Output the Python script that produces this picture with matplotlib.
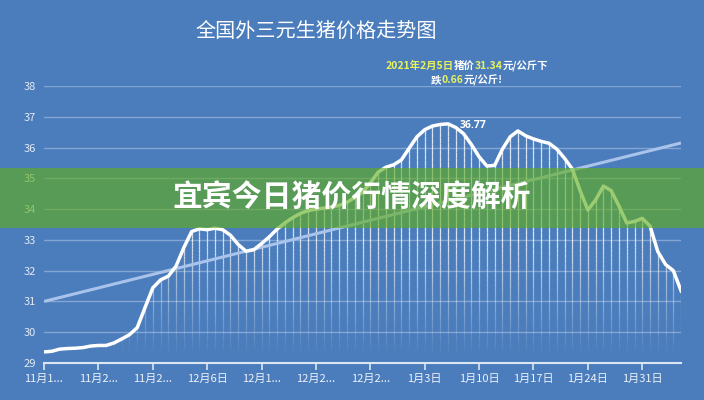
import numpy as np
import matplotlib
matplotlib.use("Agg")
import matplotlib.pyplot as plt
from matplotlib.collections import LineCollection
from matplotlib.offsetbox import TextArea, HPacker, VPacker, AnchoredOffsetbox

plt.rcParams['font.family'] = ['Noto Sans CJK SC', 'DejaVu Sans']

# daily price, 11/15 .. 2/5 (yuan / kg)
prices = [29.36, 29.38, 29.45, 29.47, 29.48, 29.50, 29.55, 29.57, 29.57, 29.65,
          29.78, 29.92, 30.15, 30.80, 31.44, 31.70, 31.82, 32.15, 32.75, 33.27,
          33.36, 33.33, 33.38, 33.33, 33.15, 32.85, 32.63, 32.68, 32.88, 33.10,
          33.35, 33.55, 33.72, 33.86, 33.95, 34.00, 34.03, 34.07, 34.12, 34.22,
          34.38, 34.55, 34.85, 35.20, 35.36, 35.44, 35.60, 35.98, 36.35, 36.58,
          36.70, 36.75, 36.77, 36.65, 36.45, 36.10, 35.70, 35.40, 35.42, 35.95,
          36.35, 36.54, 36.38, 36.28, 36.20, 36.14, 35.95, 35.65, 35.30, 34.60,
          33.97, 34.30, 34.75, 34.60, 34.10, 33.55, 33.60, 33.70, 33.45, 32.62,
          32.20, 32.00, 31.34]
trend_ends = [31.0, 36.15]
tick_labels = ["11月1...", "11月2...", "11月2...", "12月6日", "12月1...", "12月2...",
               "12月2...", "1月3日", "1月10日", "1月17日", "1月24日", "1月31日"]
peak_label = "36.77"

bg = "#4b7dbc"
days = np.arange(len(prices))
vals = np.array(prices)

fig = plt.figure(figsize=(7.04, 4.0), dpi=100)
fig.patch.set_facecolor(bg)
ax = fig.add_axes([0.0625, 0.0925, 0.905, 0.6925])
ax.set_facecolor(bg)

# drop lines, fading towards the bottom
segs, cols = [], []
for d, v in zip(days, vals):
    ys = np.linspace(29, v, 40)
    for a, b in zip(ys[:-1], ys[1:]):
        segs.append([(d, a), (d, b)])
        al = np.clip(((a + b) / 2 - 29.3) / 3.7, 0, 1) * 0.8
        cols.append((1, 1, 1, al))
ax.add_collection(LineCollection(segs, colors=cols, linewidths=0.9, zorder=2))

ax.plot([days[0], days[-1]], trend_ends, color="#a9c3ea", lw=2.2, zorder=3,
        solid_capstyle="butt")
ax.plot(days, vals, color="white", lw=2.5, zorder=4, solid_joinstyle="round")

ipk = int(np.argmax(vals))
ax.annotate(peak_label, (days[ipk], vals[ipk]), xytext=(8, -5), textcoords="offset points",
            color="white", fontsize=7.5, fontweight="bold", ha="left", va="bottom",
            family=["Open Sans", "DejaVu Sans"])

ax.set_xlim(0, len(prices) - 1)
ax.set_ylim(29, 38)
ax.set_yticks(range(29, 39))
ax.set_xticks(np.arange(0, 78, 7))
ax.set_xticklabels(tick_labels)
ax.grid(axis="y", color="#82a5d3", lw=1.0)
ax.set_axisbelow(True)
for s in ["top", "right", "left"]:
    ax.spines[s].set_visible(False)
ax.spines["bottom"].set_color("#dce6f3")
ax.spines["bottom"].set_linewidth(1.5)
ax.tick_params(axis="y", length=0, pad=6, labelcolor="#e3eaf5", labelsize=8)
ax.tick_params(axis="x", length=5, width=1.2, color="#dce6f3", pad=3,
               labelcolor="#eef2f9", labelsize=8)

fig.text(0.449, 0.922, "全国外三元生猪价格走势图", color="white", fontsize=14.5,
         ha="center", va="center")

# note text with highlighted numbers
yel = "#e8f25c"
def piece(t, c):
    return TextArea(t, textprops=dict(color=c, fontsize=7.5, fontweight="bold"))
line1 = HPacker(children=[piece("2021年2月5日", yel), piece("猪价", "white"),
                          piece("31.34", yel), piece("元/公斤下", "white")],
                pad=0, sep=0)
line2 = HPacker(children=[piece("跌", "white"), piece("0.66", yel),
                          piece("元/公斤!", "white")], pad=0, sep=0)
note = VPacker(children=[line1, line2], align="center", pad=0, sep=2)
box = AnchoredOffsetbox(loc="center", child=note, frameon=False,
                        bbox_to_anchor=(0.663, 0.817), bbox_transform=fig.transFigure)
fig.add_artist(box)

# green banner overlay
fig.patches.append(plt.Rectangle((0, 0.43), 1, 0.15, transform=fig.transFigure,
                                 facecolor="#5fae1a", alpha=0.62, zorder=10))
fig.text(0.5, 0.505, "宜宾今日猪价行情深度解析", color="white", fontsize=21.5,
         fontweight="heavy", ha="center", va="center", zorder=11)

fig.savefig("out.png", dpi=100, facecolor=bg)
